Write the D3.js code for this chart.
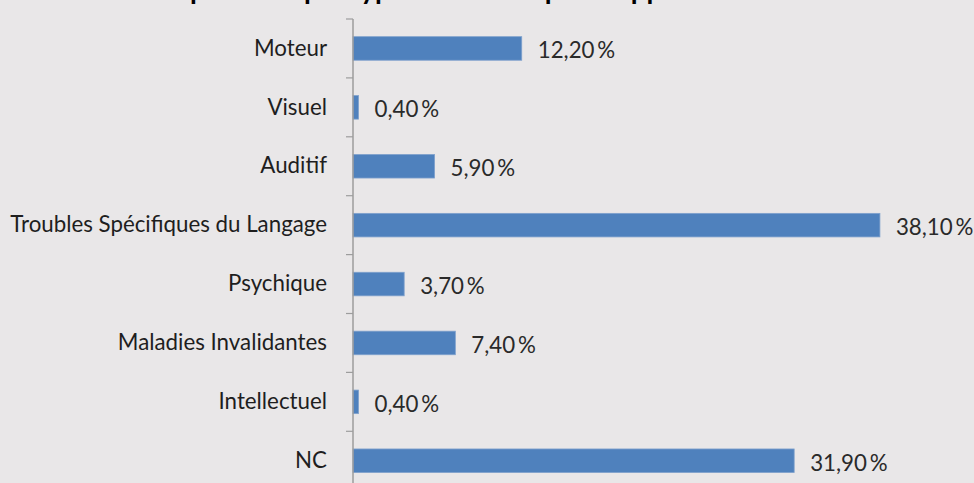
<!DOCTYPE html>
<html>
<head>
<meta charset="utf-8">
<script src="https://cdn.jsdelivr.net/npm/d3@7"></script>
<style>
html,body{margin:0;padding:0;background:#e9e7e8;overflow:hidden;}
svg{display:block;}
</style>
</head>
<body>
<svg id="chart" width="974" height="483"></svg>
<script>
const categories = ["Moteur","Visuel","Auditif","Troubles Spécifiques du Langage","Psychique","Maladies Invalidantes","Intellectuel","NC"];
const values = [12.2, 0.4, 5.9, 38.1, 3.7, 7.4, 0.4, 31.9];
const title = "Répartition par type de handicap des apprentis";

const W = 974, H = 483;
const axisX = 353;
const svg = d3.select("#chart");
svg.append("rect").attr("width", W).attr("height", H).attr("fill", "#e9e7e8");

const fontFam = "Lato, 'Open Sans', sans-serif";

// title (cut off at top in reference) — fitted so its descenders sit where the reference shows them
const t = svg.append("text")
  .attr("x", 0).attr("y", -1)
  .attr("font-family", fontFam)
  .attr("font-weight", "bold")
  .attr("font-size", 24)
  .attr("fill", "#000")
  .text(title);
{
  const n = t.node();
  const span = n.getSubStringLength(2, 36);
  const tfs = 24 * 441 / span;
  t.attr("font-size", tfs);
  const off = n.getSubStringLength(0, 2);
  t.attr("x", 190 - off);
}

const x = d3.scaleLinear().domain([0, 10]).range([axisX, axisX + 138.3]);
const y = d3.scaleBand().domain(categories).range([19, 19 + 8 * 58.9]).paddingInner(0.6).paddingOuter(0.3);

// fit label font size to reference width
const probe = svg.append("text").attr("font-family", fontFam).attr("font-size", 18).text(categories[3]);
const w18 = probe.node().getComputedTextLength();
probe.remove();
const fs = 18 * 317 / w18;

// bars
svg.selectAll("rect.bar").data(values).join("rect")
  .attr("class", "bar")
  .attr("x", x(0))
  .attr("y", (d, i) => y(categories[i]))
  .attr("width", d => x(d) - x(0))
  .attr("height", y.bandwidth())
  .attr("fill", "#4f81bd")
  .attr("stroke", "#7fa1cd")
  .attr("stroke-width", 0.8);

// y axis
const yAxis = d3.axisLeft(y).tickSize(0).tickPadding(26);
const gA = svg.append("g").attr("transform", `translate(${axisX},0)`).call(yAxis);
gA.select(".domain").remove();
gA.selectAll("text")
  .attr("font-family", fontFam)
  .attr("font-size", fs)
  .attr("fill", "#1e1e1e")
  .attr("dy", "0.32em");

const step = y.step();
const boundaries = d3.range(0, categories.length + 1).map(i => y.range()[0] + i * step);
svg.append("line").attr("x1", axisX).attr("x2", axisX).attr("y1", boundaries[0]).attr("y2", H)
  .attr("stroke", "#9d9d9d").attr("stroke-width", 1.5);
svg.selectAll("line.tick").data(boundaries).join("line")
  .attr("class", "tick")
  .attr("x1", axisX - 7).attr("x2", axisX)
  .attr("y1", d => d).attr("y2", d => d)
  .attr("stroke", "#9d9d9d").attr("stroke-width", 1.2);

// value labels
const fmt = v => d3.format(".2f")(v).replace(".", ",") + "\u2009%";
svg.selectAll("text.val").data(values).join("text")
  .attr("class", "val")
  .attr("x", d => x(d) + 16)
  .attr("y", (d, i) => y(categories[i]) + y.bandwidth() / 2 + 2)
  .attr("dy", "0.35em")
  .attr("font-family", fontFam)
  .attr("font-size", fs)
  .attr("fill", "#2a2a2a")
  .text(fmt);
</script>
</body>
</html>
